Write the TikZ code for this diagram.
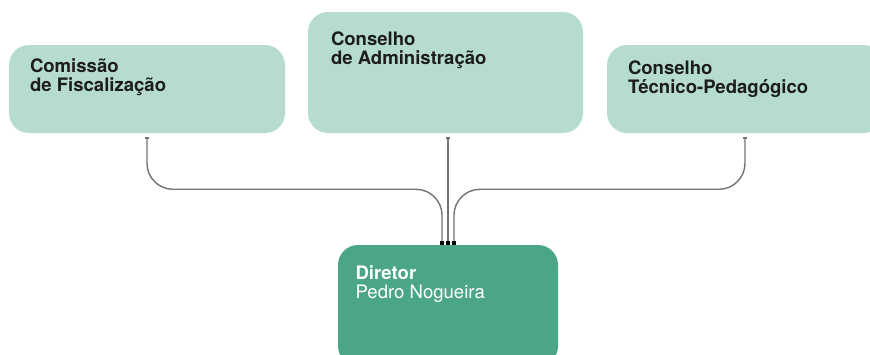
\documentclass[tikz,border=0pt]{standalone}
\usepackage{fontspec}
\setmainfont{TeX Gyre Heros}
\usepackage{xcolor}
\usepackage{tikz}
\usetikzlibrary{arrows.meta}
\definecolor{mintlight}{RGB}{182,220,206}
\definecolor{mintdark}{RGB}{74,166,133}
\definecolor{inkgray}{RGB}{29,29,27}
\definecolor{linkgray}{RGB}{115,115,115}

\begin{document}
\begin{tikzpicture}
    \tikzstyle{board} = [rectangle, rounded corners=0.5cm, minimum width=6.9cm, minimum height=2.2cm, fill=mintlight, inner sep=0pt]
    \tikzstyle{head} = [rectangle, rounded corners=0.5cm, minimum width=5.5cm, minimum height=3.025cm, fill=mintdark, inner sep=0pt]
    \tikzstyle{boardtext} = [anchor=north west, align=left, inner sep=0pt, text=inkgray, font=\fontsize{13.2}{13.5}\selectfont\bfseries]
    \tikzstyle{headtext} = [anchor=north west, align=left, inner sep=0pt, text=white, font=\fontsize{13.2}{13.5}\selectfont]
    \tikzstyle{link} = [draw=linkgray, line width=1pt, rounded corners=0.65cm, {Rectangle[length=1.4pt,width=3pt]}-{Square[length=2.8pt,color=black,fill=black]}]

    \clip (0,0) rectangle (21.75,-8.85);
    \useasboundingbox (0,0) rectangle (21.75,-8.85);

    % Boards on top
    \node [board] (comissao) at (3.675,-2.225) {};
    \node [board, minimum width=6.875cm, minimum height=3.025cm] (admin) at (11.1375,-1.8125) {};
    \node [board] (tecnico) at (18.625,-2.225) {};

    \node [boardtext] (comissaotxt) at ([xshift=5.25mm,yshift=-3.5mm]comissao.north west) {Comissão\\de Fiscalização};
    \node [boardtext] (admintxt) at ([xshift=5.75mm,yshift=-4.9mm]admin.north west) {Conselho\\de Administração};
    \node [boardtext] (tecnicotxt) at ([xshift=5.25mm,yshift=-3.85mm]tecnico.north west) {Conselho\\Técnico-Pedagógico};

    % Director
    \node [head] (diretor) at (11.2,-7.6375) {};
    \node [headtext] (diretortxt) at ([xshift=4.4mm,yshift=-5.25mm]diretor.north west) {\textbf{Diretor}\\Pedro Nogueira};

    % Links from boards to director
    \draw [link] ([yshift=-1mm]comissao.south) -- ++(0,-1.3) -| ([xshift=-1.5mm]diretor.north);
    \draw [link, rounded corners=0pt] ([yshift=-1mm]admin.south -| diretor.north) -- (diretor.north);
    \draw [link] ([yshift=-1mm]tecnico.south) -- ++(0,-1.3) -| ([xshift=1.5mm]diretor.north);
\end{tikzpicture}
\end{document}
